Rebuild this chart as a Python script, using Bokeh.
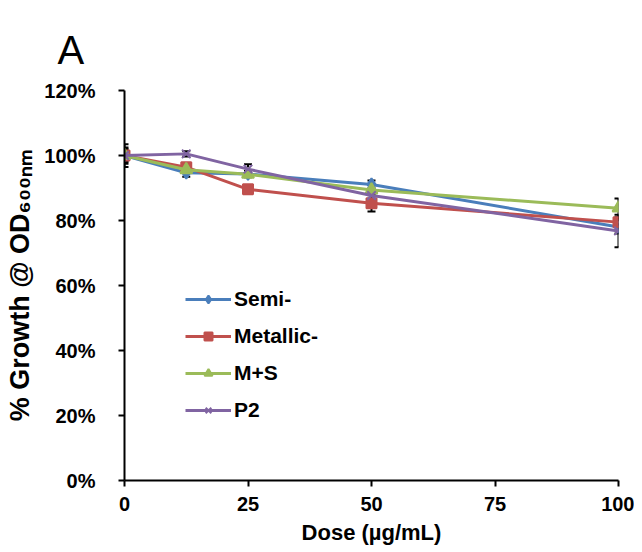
from bokeh.plotting import figure
from bokeh.models import (ColumnDataSource, FixedTicker, PrintfTickFormatter, Range1d,
                          Legend, LegendItem, Whisker, TeeHead, Title)
from bokeh.embed import file_html
from bokeh.resources import INLINE

# ---- data ----
dose = [0, 12.5, 25, 50, 100]
semi = [100, 94.7, 94.3, 91.1, 78.0]
metallic = [100, 96.4, 89.6, 85.3, 79.5]
ms = [100, 95.6, 94.2, 89.4, 83.8]
p2 = [100, 100.5, 95.8, 87.7, 76.8]
semi_err = [2.0, 1.2, 1.0, 1.2, 2.0]
metallic_err = [2.5, 0.8, 0.8, 2.5, 1.5]
ms_err = [1.5, 0.8, 0.8, 1.5, 3.0]
p2_err = [3.5, 0.8, 1.5, 1.0, 5.0]
series_names = ["Semi-", "Metallic-", "M+S", "P2"]
x_ticks = [0, 25, 50, 75, 100]
y_ticks = [0, 20, 40, 60, 80, 100, 120]
panel_letter = "A"

FONT = "Liberation Sans"

p = figure(width=634, height=552, output_backend="svg", toolbar_location=None,
           x_range=Range1d(0, 100), y_range=Range1d(0, 120),
           min_border_left=124, min_border_right=16, min_border_top=90, min_border_bottom=72)
p.outline_line_color = None
p.grid.visible = False
p.background_fill_color = "white"
p.border_fill_color = "white"

p.title = Title(text=panel_letter, text_font=FONT, text_font_size="40px",
                text_font_style="normal", text_color="black",
                align="left", offset=-67, standoff=37)

for ax in (p.xaxis[0], p.yaxis[0]):
    ax.axis_line_width = 2
    ax.axis_line_color = "black"
    ax.major_tick_line_width = 2
    ax.major_tick_line_color = "black"
    ax.major_tick_out = 6
    ax.major_tick_in = 0
    ax.minor_tick_line_color = None
    ax.major_label_text_font = FONT
    ax.major_label_text_font_style = "bold"
    ax.major_label_text_font_size = "20px"
    ax.major_label_text_color = "black"
    ax.axis_label_text_font = FONT
    ax.axis_label_text_font_style = "bold"
    ax.axis_label_text_color = "black"

p.xaxis.ticker = FixedTicker(ticks=x_ticks)
p.yaxis.ticker = FixedTicker(ticks=y_ticks)
p.yaxis.formatter = PrintfTickFormatter(format="%d%%")
p.yaxis.major_label_standoff = 23
p.xaxis.major_label_standoff = 10
p.xaxis.axis_label = "Dose (µg/mL)"
p.xaxis.axis_label_text_font_size = "22px"
p.xaxis.axis_label_standoff = 6
p.yaxis.axis_label = "% Growth @ OD\u2086\u2080\u2080\u2099\u2098"
p.yaxis.axis_label_text_font_size = "27px"
p.yaxis.axis_label_standoff = 6

colors = ["#4A7EBB", "#C0504D", "#9BBB59", "#8064A2"]
markers = ["diamond", "square", "triangle", "x"]
sizes = [12, 10, 12, 12]
values = [semi, metallic, ms, p2]
errs = [semi_err, metallic_err, ms_err, p2_err]

items = []
for name, col, mk, sz, vals, er in zip(series_names, colors, markers, sizes, values, errs):
    src = ColumnDataSource(dict(x=dose, y=vals,
                                lo=[v - e for v, e in zip(vals, er)],
                                hi=[v + e for v, e in zip(vals, er)]))
    w = Whisker(base="x", lower="lo", upper="hi", source=src, dimension="height",
                line_color="black", line_width=2,
                upper_head=TeeHead(size=8, line_color="black", line_width=2),
                lower_head=TeeHead(size=8, line_color="black", line_width=2))
    p.add_layout(w)
    ln = p.line("x", "y", source=src, line_color=col, line_width=3)
    sc = p.scatter("x", "y", source=src, marker=mk, size=sz, fill_color=col,
                   line_color=col, line_width=2)
    items.append(LegendItem(label=name, renderers=[ln, sc]))

legend = Legend(items=items, location=(61, 58), orientation="vertical",
                border_line_color=None, background_fill_alpha=0,
                padding=0, margin=0, spacing=13,
                glyph_width=46, glyph_height=20, label_height=20, label_standoff=3,
                label_text_font=FONT, label_text_font_style="bold",
                label_text_font_size="21px", label_text_color="black")
p.add_layout(legend, "center")

open("out.html", "w").write(file_html(p, INLINE))
